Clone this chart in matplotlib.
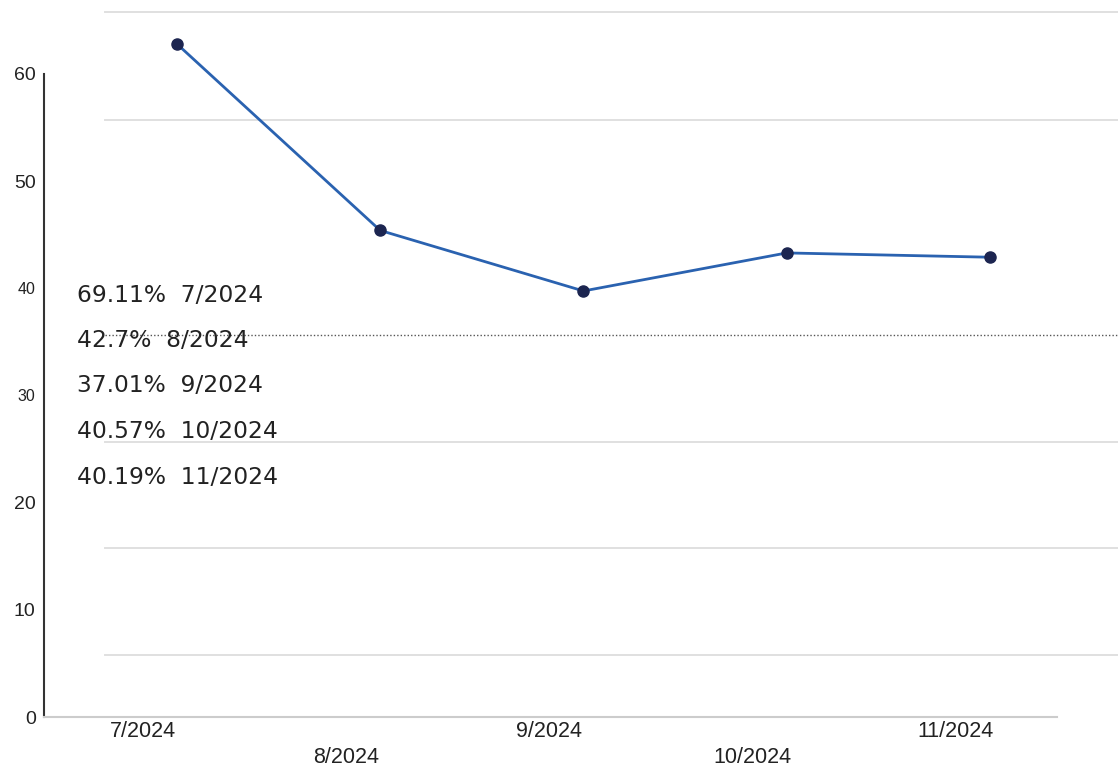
import matplotlib
matplotlib.use('Agg')
import matplotlib.pyplot as plt
from matplotlib.transforms import ScaledTranslation

# values as drawn on the scan (y position of each dot)
months = ['7/2024', '8/2024', '9/2024', '10/2024', '11/2024']
values = [62.8, 45.4, 39.75, 43.3, 42.9]
# text block printed on the chart
pct_labels = ['69.11%', '42.7%', '37.01%', '40.57%', '40.19%']
yticks = [0, 10, 20, 30, 40, 50, 60]
# faint gridlines of the scan (offset from the ticks)
grid_levels = [5.8, 15.8, 25.7, 55.7, 65.8]
dotted_level = 35.65


def main():
	plt.rcParams['font.family'] = ['Liberation Sans', 'DejaVu Sans']
	fig = plt.figure(figsize=(11.18, 7.67), dpi=100)
	ax = fig.add_axes([44/1118, 50/767, 1 - 44/1118, 717/767])
	ax.set_xlim(-0.654, 4.63)
	ax.set_ylim(0, 66.9)

	for g in grid_levels:
		ax.plot([-0.354, 4.63], [g, g], color='#e0e0e0', lw=1.4, zorder=1)
	ax.plot([-0.354, 4.63], [dotted_level, dotted_level], color='#555555',
		lw=1.0, ls=(0, (1, 1.5)), zorder=1)

	x = list(range(len(months)))
	ax.plot(x, values, color='#2a62b0', lw=2, zorder=3)
	ax.plot(x, values, 'o', color='#1c2550', ms=8, zorder=4)

	for s in ['top', 'right']:
		ax.spines[s].set_visible(False)
	ax.spines['left'].set_bounds(0, 60)
	ax.spines['left'].set_color('#333333')
	ax.spines['left'].set_linewidth(1.5)
	ax.spines['bottom'].set_bounds(-0.654, 4.33)
	ax.spines['bottom'].set_color('#cccccc')
	ax.spines['bottom'].set_linewidth(1.5)

	ax.set_yticks(yticks)
	ax.set_yticklabels([str(t) for t in yticks], fontsize=14)
	for t, lab in zip(yticks, ax.get_yticklabels()):
		if t in (30, 40):
			lab.set_fontsize(11.5)
	ax.tick_params(axis='y', length=0, pad=6, colors='#222222')

	ax.set_xticks(x)
	ax.set_xticklabels(months, fontsize=15.5)
	ax.tick_params(axis='x', length=0, pad=3, colors='#222222')
	for i, lab in enumerate(ax.get_xticklabels()):
		dy = -26/100 if i % 2 == 1 else 0
		lab.set_transform(lab.get_transform() + ScaledTranslation(-34/100, dy, fig.dpi_scale_trans))

	for i in range(len(months)):
		fig.text(77/1118, 1 - (295 + i*45.5)/767, pct_labels[i] + '  ' + months[i],
			fontsize=16.8, va='center', ha='left', color='#222222', family='DejaVu Sans')

	fig.savefig('out.png', dpi=100)


if __name__ == '__main__':
	main()
